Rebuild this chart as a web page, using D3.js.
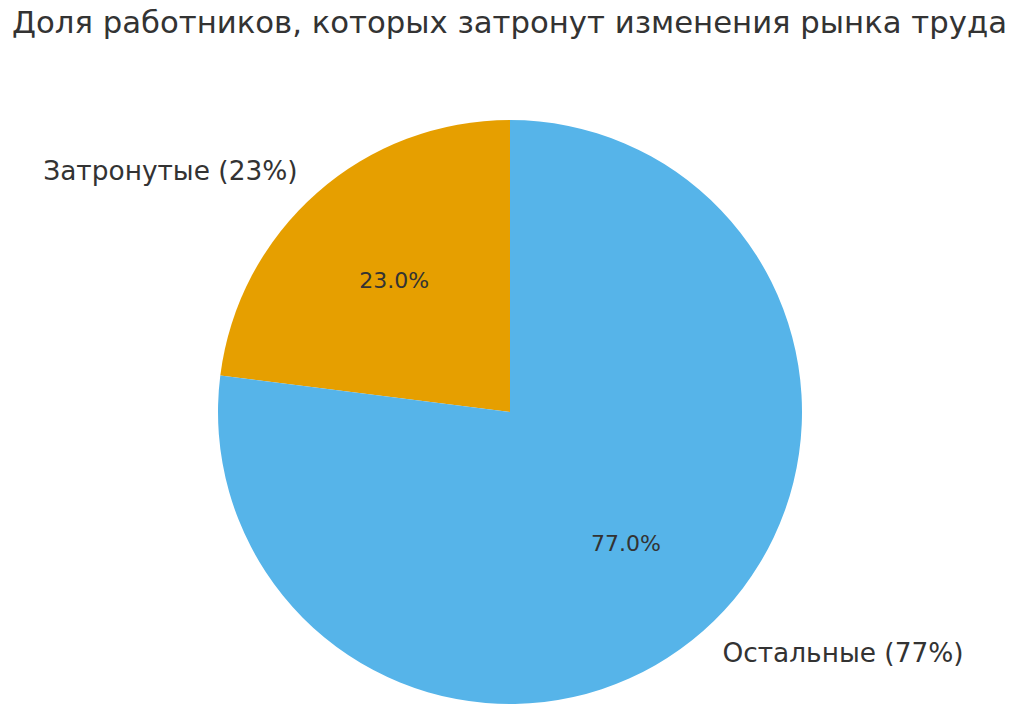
<!DOCTYPE html>
<html>
<head>
<meta charset="utf-8">
<script src="https://cdn.jsdelivr.net/npm/d3@7"></script>
<style>
  body { margin: 0; background: #fff; }
  text { font-family: "DejaVu Sans", sans-serif; fill: #333; }
</style>
</head>
<body>
<div id="chart"></div>
<script>
// pie data
const TITLE = "Доля работников, которых затронут изменения рынка труда";
const LABELS = ["Затронутые (23%)", "Остальные (77%)"];
const VALUES = [23, 77];
const COLORS = ["#E69F00", "#56B4E9"];

const W = 1024, H = 728;
const cx = 510, cy = 412, R = 292;

const svg = d3.select("#chart").append("svg")
  .attr("width", W).attr("height", H);

svg.append("text").attr("x", 12).attr("y", 33)
  .attr("textLength", 995).attr("lengthAdjust", "spacingAndGlyphs")
  .style("font-size", "31px").text(TITLE);

// matplotlib style: start at top, counterclockwise
const pie = d3.pie().sort(null).value(d => d)
  .startAngle(0).endAngle(-2 * Math.PI);
const arcs = pie(VALUES);
const arc = d3.arc().innerRadius(0).outerRadius(R);

const g = svg.append("g").attr("transform", `translate(${cx},${cy})`);

g.selectAll("path").data(arcs).enter().append("path")
  .attr("d", arc).attr("fill", (d, i) => COLORS[i]);

const mid = d => (d.startAngle + d.endAngle) / 2;
const pos = (d, k) => [Math.sin(mid(d)) * R * k, -Math.cos(mid(d)) * R * k];

g.selectAll(".lbl").data(arcs).enter().append("text")
  .attr("x", d => pos(d, 1.1)[0]).attr("y", d => pos(d, 1.1)[1])
  .attr("dy", "0.35em")
  .attr("text-anchor", d => pos(d, 1)[0] < 0 ? "end" : "start")
  .style("font-size", "26.4px")
  .text((d, i) => LABELS[i]);

const total = d3.sum(VALUES);
g.selectAll(".pct").data(arcs).enter().append("text")
  .attr("x", d => pos(d, 0.6)[0]).attr("y", d => pos(d, 0.6)[1])
  .attr("dy", "0.35em").attr("text-anchor", "middle")
  .style("font-size", "22px")
  .text(d => (d.value / total * 100).toFixed(1) + "%");
</script>
</body>
</html>
